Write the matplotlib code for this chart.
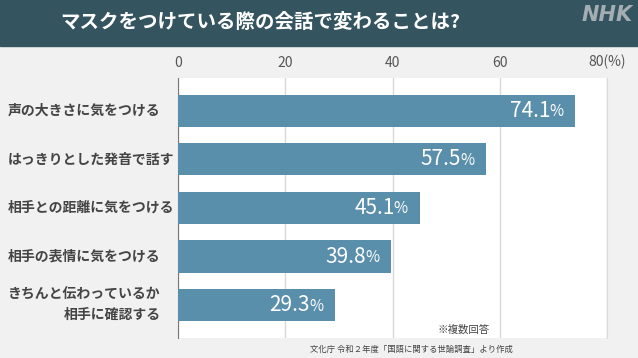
import matplotlib.pyplot as plt
from matplotlib.patches import Rectangle

plt.rcParams['font.family'] = ['Noto Sans CJK JP', 'DejaVu Sans']

# データ
labels = ["声の大きさに気をつける", "はっきりとした発音で話す", "相手との距離に気をつける",
          "相手の表情に気をつける", "きちんと伝わっているか\n相手に確認する"]
values = [74.1, 57.5, 45.1, 39.8, 29.3]
xticks = [0, 20, 40, 60, 80]
xtick_labels = ["0", "20", "40", "60", "80(%)"]

title = "マスクをつけている際の会話で変わることは?"
note = "※複数回答"
source = "文化庁 令和２年度「国語に関する世論調査」より作成"

bar_color = "#5a8fab"
head_color = "#34545f"
bg_color = "#f1f1f1"
text_color = "#444444"

W, H = 638, 358
fig = plt.figure(figsize=(W / 100, H / 100), dpi=100, facecolor=bg_color)

# タイトルバー
fig.patches.append(Rectangle((0, 1 - 46 / H), 1, 46 / H, transform=fig.transFigure,
                             color=head_color, zorder=0))
fig.text(60 / W, 1 - 23 / H, title, color="white", fontsize=14, fontweight="bold",
         ha="left", va="center")
fig.text(633 / W, 1 - 15 / H, "NHK", color="#a3adb2", fontsize=15, fontweight="bold",
         style="italic", ha="right", va="center", family="DejaVu Sans")

ax = fig.add_axes([178 / W, 1 - 338 / H, (607 - 178) / W, (338 - 78) / H])
ax.set_facecolor("white")
y = range(len(values))
ax.barh(y, values, height=0.66, color=bar_color, zorder=3)
ax.set_xlim(0, 80)
ax.set_ylim(4.68, -0.68)

ax.set_xticks(xticks)
ax.set_xticklabels(xtick_labels)
ax.xaxis.tick_top()
ax.tick_params(axis="x", length=0, pad=6, labelsize=10, labelcolor="#555555")
ax.set_yticks([])
ax.grid(axis="x", color="#d8d8d8", linewidth=1, zorder=0)
for s in ["top", "bottom"]:
    ax.spines[s].set_visible(False)
ax.spines["left"].set_color("#777777")
ax.spines["right"].set_color("#d8d8d8")

# 項目名
for i, lab in enumerate(labels):
    ax.annotate(lab, xy=(0, i), xycoords=("axes fraction", "data"),
                xytext=(-170, 0), textcoords="offset pixels",
                ha="left", va="center", multialignment="right",
                fontsize=10, fontweight="bold", color=text_color, linespacing=1.5)

# 数値ラベル
for i, v in enumerate(values):
    ax.annotate("%", xy=(v, i), xytext=(-12, -1), textcoords="offset pixels",
                ha="right", va="center", fontsize=11, color="white", zorder=4)
    ax.annotate(f"{v:.1f}", xy=(v, i), xytext=(-25, 0), textcoords="offset pixels",
                ha="right", va="center", fontsize=15, color="white", zorder=4)

fig.text(490 / W, 1 - 330 / H, note, fontsize=7.5, color=text_color, ha="right", va="center")
fig.text(513 / W, 1 - 349 / H, source, fontsize=6, color=text_color, ha="right", va="center")

fig.savefig("out.png", dpi=100, facecolor=bg_color)
